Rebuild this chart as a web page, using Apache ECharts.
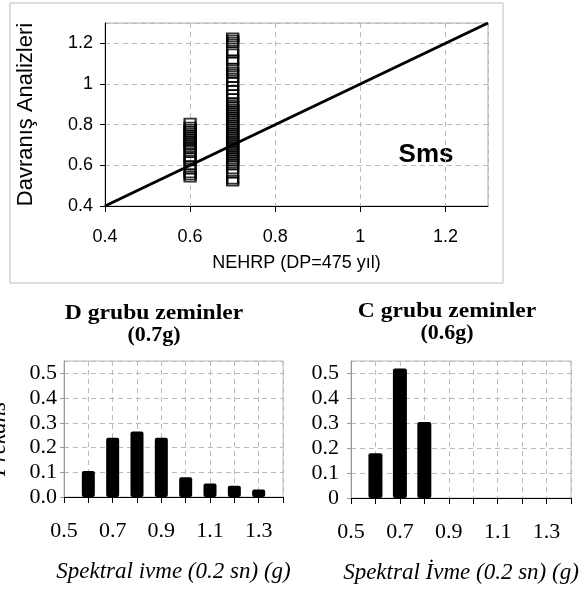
<!DOCTYPE html>
<html>
<head>
<meta charset="utf-8">
<script src="https://cdn.jsdelivr.net/npm/echarts@6/dist/echarts.min.js"></script>
<style>
  html, body { margin: 0; padding: 0; background: #fff; }
  #chart { width: 587px; height: 593px; }
</style>
</head>
<body>
<div id="chart"></div>
<script>
// Sms dagilimi (ust grafik)
var lineEnds = [0.4, 1.3];
var smsX06 = 0.6;
var sms06 = [0.81, 0.79, 0.78, 0.77, 0.76, 0.75, 0.74, 0.73, 0.72, 0.71, 0.70, 0.69, 0.68,
  0.66, 0.64, 0.63, 0.62, 0.60, 0.58, 0.56, 0.55, 0.54];
var smsX07 = 0.7;
var sms07 = [1.23, 1.22, 1.21, 1.20, 1.16, 1.15, 1.12, 1.11, 1.08, 1.06, 1.05, 1.03, 1.01,
  0.99, 0.97, 0.95, 0.93, 0.91, 0.90, 0.89, 0.88, 0.87, 0.86, 0.85, 0.84, 0.83, 0.82,
  0.81, 0.80, 0.79, 0.78, 0.77, 0.76, 0.75, 0.74, 0.73, 0.72, 0.71, 0.70, 0.69, 0.68,
  0.67, 0.66, 0.65, 0.64, 0.63, 0.62, 0.61, 0.60, 0.58, 0.56, 0.53, 0.52];

// histogramlar (alt grafikler)
var binsD = [0.6, 0.7, 0.8, 0.9, 1.0, 1.1, 1.2, 1.3];
var freqD = [0.105, 0.24, 0.265, 0.24, 0.08, 0.055, 0.045, 0.03];
var binsC = [0.6, 0.7, 0.8];
var freqC = [0.18, 0.52, 0.305];

function pairs(xs, ys) {
  return ys.map(function (y, i) { return [Array.isArray(xs) ? xs[i] : xs, y]; });
}

var sans = 'Liberation Sans, Arial, sans-serif';
var serif = 'Liberation Serif, Times New Roman, serif';
var dash = { show: true, lineStyle: { color: '#bbb', type: [5, 4], width: 1 } };

function histX(gridIndex, name) {
  return {
    type: 'value', gridIndex: gridIndex, min: 0.5, max: 1.4, interval: 0.1,
    name: name, nameLocation: 'middle', nameGap: 63,
    nameTextStyle: { fontFamily: serif, fontStyle: 'italic', fontSize: 23, color: '#000' },
    axisLine: { lineStyle: { color: '#000', width: 1 } },
    axisTick: { show: true, length: 6, lineStyle: { color: '#000' } },
    axisLabel: {
      margin: 23, fontFamily: serif, fontSize: 22, color: '#000',
      formatter: function (v) { return Math.round(v * 10) % 2 === 1 ? v.toFixed(1) : ''; }
    },
    splitLine: dash
  };
}
function histY(gridIndex, fmt, name, margin) {
  return {
    type: 'value', gridIndex: gridIndex, min: 0, max: 0.55, interval: 0.1,
    name: name, nameLocation: 'middle', nameGap: 54, nameRotate: 90,
    nameTextStyle: { fontFamily: serif, fontStyle: 'italic', fontSize: 23, color: '#000', padding: [0, 20, 0, 0] },
    axisLine: { show: true, lineStyle: { color: '#999', width: 1 } },
    axisTick: { show: true, length: 4, lineStyle: { color: '#999' } },
    axisLabel: { margin: margin, fontFamily: serif, fontSize: 22, color: '#000', showMaxLabel: false, formatter: fmt },
    splitLine: dash
  };
}

var chart = echarts.init(document.getElementById('chart'));
var option = {
  animation: false,
  backgroundColor: '#fff',
  grid: [
    { left: 105, top: 23, width: 383, height: 183, show: true, borderColor: '#aaa', borderWidth: 1, outerBoundsMode: 'none', containLabel: false },
    { left: 64, top: 361, width: 219, height: 136, show: true, borderColor: '#bbb', borderWidth: 1, outerBoundsMode: 'none', containLabel: false },
    { left: 351, top: 361, width: 220, height: 137, show: true, borderColor: '#bbb', borderWidth: 1, outerBoundsMode: 'none', containLabel: false }
  ],
  xAxis: [
    {
      type: 'value', gridIndex: 0, min: 0.4, max: 1.3, interval: 0.2,
      name: 'NEHRP (DP=475 yıl)', nameLocation: 'middle', nameGap: 48,
      nameTextStyle: { fontFamily: sans, fontSize: 18, color: '#000' },
      axisLine: { lineStyle: { color: '#000' } },
      axisTick: { show: true, length: 6, lineStyle: { color: '#000' } },
      axisLabel: { margin: 22, fontFamily: sans, fontSize: 18, color: '#000', showMaxLabel: false },
      splitLine: dash
    },
    histX(1, 'Spektral ivme (0.2 sn) (g)'),
    histX(2, 'Spektral İvme (0.2 sn) (g)')
  ],
  yAxis: [
    {
      type: 'value', gridIndex: 0, min: 0.4, max: 1.3, interval: 0.2,
      name: 'Davranış Analizleri', nameLocation: 'middle', nameGap: 68, nameRotate: 90,
      nameTextStyle: { fontFamily: sans, fontSize: 22, color: '#000' },
      axisLine: { show: true, lineStyle: { color: '#000' } },
      axisTick: { show: true, length: 5, lineStyle: { color: '#000' } },
      axisLabel: { margin: 12, fontFamily: sans, fontSize: 18, color: '#000', showMaxLabel: false },
      splitLine: dash
    },
    histY(1, function (v) { return v.toFixed(1); }, 'Frekans', 7),
    histY(2, null, '', 12)
  ],
  series: [
    {
      type: 'line', xAxisIndex: 0, yAxisIndex: 0, symbol: 'none', z: 3,
      lineStyle: { color: '#000', width: 3 },
      data: [[lineEnds[0], lineEnds[0]], [lineEnds[1], lineEnds[1]]]
    },
    {
      type: 'scatter', xAxisIndex: 0, yAxisIndex: 0, symbol: 'rect', symbolSize: [11, 8], z: 4,
      itemStyle: { color: 'rgba(255,255,255,0)', borderColor: '#000', borderWidth: 2 },
      data: pairs(smsX06, sms06)
    },
    {
      type: 'scatter', xAxisIndex: 0, yAxisIndex: 0, symbol: 'rect', symbolSize: [11, 8], z: 4,
      itemStyle: { color: 'rgba(255,255,255,0)', borderColor: '#000', borderWidth: 2 },
      data: pairs(smsX07, sms07)
    },
    {
      type: 'bar', xAxisIndex: 1, yAxisIndex: 1, barWidth: 13,
      itemStyle: { color: '#000', borderRadius: 2 },
      data: pairs(binsD, freqD)
    },
    {
      type: 'bar', xAxisIndex: 2, yAxisIndex: 2, barWidth: 14,
      itemStyle: { color: '#000', borderRadius: 2 },
      data: pairs(binsC, freqC)
    }
  ],
  graphic: [
    { type: 'rect', shape: { x: 10, y: 3, width: 493, height: 280 }, style: { fill: 'none', stroke: '#bbb', lineWidth: 1 }, z: -1 },
    { type: 'text', x: 426, y: 155, style: { text: 'Sms', font: 'bold 26px ' + sans, fill: '#000', textAlign: 'center', textVerticalAlign: 'middle' } },
    { type: 'text', x: 154, y: 314, scaleX: 1.18, style: { text: 'D grubu zeminler', font: 'bold 20px ' + serif, fill: '#000', textAlign: 'center', textVerticalAlign: 'middle' } },
    { type: 'text', x: 154, y: 336, scaleX: 1.1, style: { text: '(0.7g)', font: 'bold 20px ' + serif, fill: '#000', textAlign: 'center', textVerticalAlign: 'middle' } },
    { type: 'text', x: 447, y: 312, scaleX: 1.18, style: { text: 'C grubu zeminler', font: 'bold 20px ' + serif, fill: '#000', textAlign: 'center', textVerticalAlign: 'middle' } },
    { type: 'text', x: 447, y: 334, scaleX: 1.1, style: { text: '(0.6g)', font: 'bold 20px ' + serif, fill: '#000', textAlign: 'center', textVerticalAlign: 'middle' } }
  ]
};
chart.setOption(option);
</script>
</body>
</html>
